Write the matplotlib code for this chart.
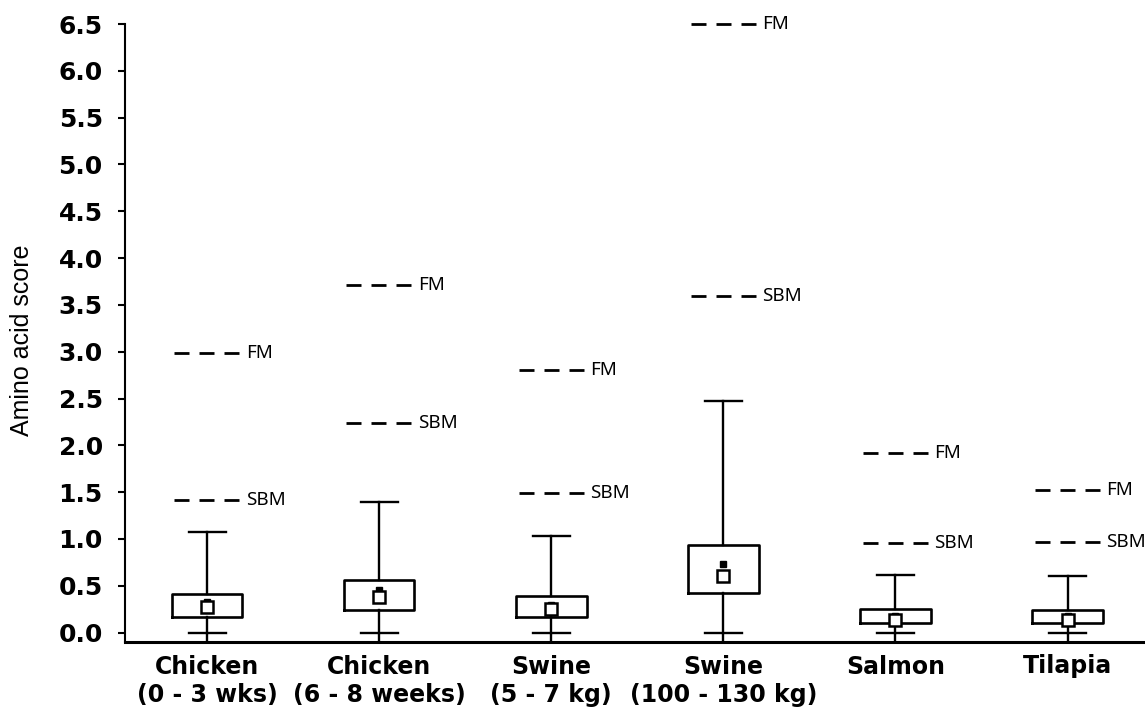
import numpy as np
import matplotlib.pyplot as plt

# groups shown along the x axis
groups = ["Chicken\n(0 - 3 wks)", "Chicken\n(6 - 8 weeks)", "Swine\n(5 - 7 kg)",
          "Swine\n(100 - 130 kg)", "Salmon", "Tilapia"]

# box plot summary of the amino acid scores
q1 = [0.17, 0.24, 0.17, 0.42, 0.10, 0.10]
q3 = [0.41, 0.56, 0.39, 0.94, 0.25, 0.24]
lo = [0.0, 0.0, 0.0, 0.0, 0.0, 0.0]
hi = [1.08, 1.39, 1.03, 2.47, 0.62, 0.61]
mean = [0.27, 0.38, 0.25, 0.61, 0.14, 0.14]
median = [0.33, 0.46, 0.29, 0.73, 0.18, 0.18]

# scores of fish meal and soybean meal
fm = [2.99, 3.71, 2.81, 6.5, 1.92, 1.52]
sbm = [1.42, 2.24, 1.49, 3.59, 0.96, 0.97]

x = np.arange(len(groups))

fig = plt.figure(figsize=(11.45, 7.15), dpi=100)
ax = fig.add_axes([125/1145, 73/715, 1 - 125/1145, 618/715])

stats = []
for i in range(len(groups)):
    stats.append(dict(med=median[i], q1=q1[i], q3=q3[i], whislo=lo[i],
                      whishi=hi[i], mean=mean[i]))

ax.bxp(stats, positions=x, widths=0.41, capwidths=0.215, showmeans=True,
       showfliers=False,
       boxprops=dict(color='black', lw=1.9),
       whiskerprops=dict(color='black', lw=1.7),
       capprops=dict(color='black', lw=1.7),
       medianprops=dict(visible=False),
       meanprops=dict(marker='s', markerfacecolor='white', markeredgecolor='black',
                      markersize=8.5, markeredgewidth=1.8, zorder=4))

# small filled square just above the mean marker
ax.plot(x, median, 's', color='black', ms=5, zorder=3)

# whisker runs on down to the axis line
ax.vlines(x, -0.1, lo, color='black', lw=1.7)

# reference lines for FM and SBM
for i in range(len(groups)):
    for val, name in ((fm[i], 'FM'), (sbm[i], 'SBM')):
        ax.plot([x[i] - 0.19, x[i] + 0.19], [val, val], color='black', lw=2,
                dashes=(5.4, 3.6), clip_on=False)
        ax.text(x[i] + 0.225, val, name, ha='left', va='center', fontsize=13.5,
                family='Noto Sans', clip_on=False)

ax.set_xlim(-0.477, 5.45)
ax.set_ylim(-0.1, 6.5)
ax.set_yticks(np.arange(0, 6.51, 0.5))
ax.set_yticklabels(["%.1f" % v for v in np.arange(0, 6.51, 0.5)],
                   fontsize=18, fontweight='bold', family='DejaVu Sans')
ax.set_xticks(x)
ax.set_xticklabels(groups, fontsize=17, fontweight='bold', family='DejaVu Sans',
                   linespacing=1.25)
ax.tick_params(axis='x', length=0, pad=9)
ax.tick_params(axis='y', length=5, width=1.5, direction='out', pad=11)

ax.set_ylabel("Amino acid score", fontsize=18, family='Liberation Sans')
ax.yaxis.set_label_coords(-0.089, 0.489)

for s in ['top', 'right']:
    ax.spines[s].set_visible(False)
ax.spines['left'].set_linewidth(1.5)
ax.spines['bottom'].set_linewidth(2.2)

plt.savefig("out.png", dpi=100)
